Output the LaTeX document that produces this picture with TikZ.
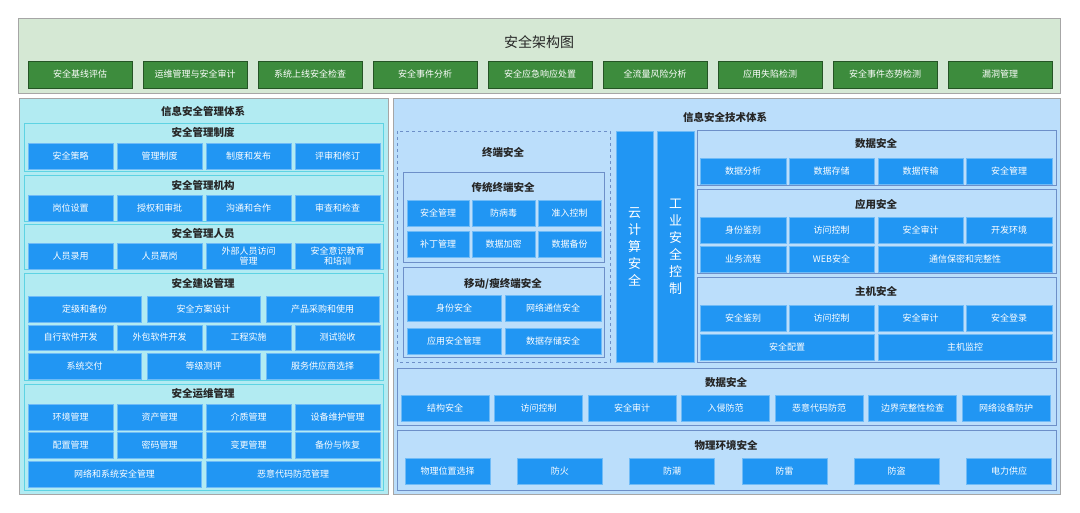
\documentclass[tikz,border=0pt]{standalone}
\usepackage{fontspec}
\setmainfont{Noto Sans CJK SC}
\definecolor{cB}{HTML}{2196F3}
\definecolor{cG}{HTML}{3D8C3D}
\definecolor{cGp}{HTML}{D5E8D4}
\definecolor{cLp}{HTML}{B2EBF2}
\definecolor{cRp}{HTML}{BBDEFB}
\definecolor{cLb}{HTML}{5ED3E3}
\definecolor{cRb}{HTML}{6D8FC8}
\begin{document}
\begin{tikzpicture}[x=1pt,y=-1pt,
  bb/.style={fill=cB,draw=cB!65!white,line width=0.6pt},
  gb/.style={fill=cG,draw=cG!60!black,line width=0.5pt},
  tw/.style={text=white,font=\fontsize{9}{10}\selectfont,align=center,inner sep=0pt},
  tt/.style={font=\fontsize{10.5}{12}\selectfont\bfseries,text=black!85,inner sep=0pt},
  lp/.style={draw=cLb,line width=1pt},
  rp/.style={draw=cRb,line width=1pt}]
\newcommand\mybox[7]{\draw[#7] (#2,#3) rectangle (#4,#5);
  \node[tw] (#1) at ({(#2+#4)/2},{(#3+#5)/2}) {#6};}
\useasboundingbox (0,0) rectangle (1080,513);
\fill[white] (0,0) rectangle (1080,513);
% top
\draw[fill=cGp,draw=gray!70,line width=0.8pt] (18,18) rectangle (1060,93);
\node[font=\fontsize{14}{16}\selectfont,text=black!85] (top) at (539,42) {安全架构图};
\foreach \t [count=\i] in {安全基线评估,运维管理与安全审计,系统上线安全检查,安全事件分析,安全应急响应处置,全流量风险分析,应用失陷检测,安全事件态势检测,漏洞管理}{
  \pgfmathsetmacro\xa{28+(\i-1)*115}\pgfmathsetmacro\xb{\xa+104}
  \mybox{g\i}{\xa}{61}{\xb}{88}{\t}{gb}}
% left panel
\draw[fill=cLp,draw=gray!70,line width=0.8pt] (19,98) rectangle (388,494);
\node[tt] (lt) at (203,111) {信息安全管理体系};
\newcommand\fourrow[6]{% name y1 y2 texts a b c d
  \mybox{#1a}{28}{#2}{113}{#3}{#4}{bb}}
% sub1
\draw[lp] (24,124) rectangle (383,172); \node[tt] (l1) at (203,133) {安全管理制度};
\mybox{l1a}{28}{143}{113}{169}{安全策略}{bb}
\mybox{l1b}{117}{143}{202}{169}{管理制度}{bb}
\mybox{l1c}{206}{143}{291}{169}{制度和发布}{bb}
\mybox{l1d}{295}{143}{380}{169}{评审和修订}{bb}
\draw[lp] (24,176) rectangle (383,222); \node[tt] (l2) at (203,186) {安全管理机构};
\mybox{l2a}{28}{195}{113}{221}{岗位设置}{bb}
\mybox{l2b}{117}{195}{202}{221}{授权和审批}{bb}
\mybox{l2c}{206}{195}{291}{221}{沟通和合作}{bb}
\mybox{l2d}{295}{195}{380}{221}{审查和检查}{bb}
\draw[lp] (24,225) rectangle (383,270); \node[tt] (l3) at (203,234) {安全管理人员};
\mybox{l3a}{28}{243}{113}{269}{人员录用}{bb}
\mybox{l3b}{117}{243}{202}{269}{人员离岗}{bb}
\mybox{l3c}{206}{243}{291}{269}{外部人员访问\\管理}{bb}
\mybox{l3d}{295}{243}{380}{269}{安全意识教育\\和培训}{bb}
\draw[lp] (24,274) rectangle (383,380); \node[tt] (l4) at (203,284) {安全建设管理};
\mybox{l4a}{28}{296}{141}{322}{定级和备份}{bb}
\mybox{l4b}{147}{296}{260}{322}{安全方案设计}{bb}
\mybox{l4c}{266}{296}{379}{322}{产品采购和使用}{bb}
\mybox{l4d}{28}{325}{113}{350}{自行软件开发}{bb}
\mybox{l4e}{117}{325}{202}{350}{外包软件开发}{bb}
\mybox{l4f}{206}{325}{291}{350}{工程实施}{bb}
\mybox{l4g}{295}{325}{380}{350}{测试验收}{bb}
\mybox{l4h}{28}{353}{141}{379}{系统交付}{bb}
\mybox{l4i}{147}{353}{260}{379}{等级测评}{bb}
\mybox{l4j}{266}{353}{379}{379}{服务供应商选择}{bb}
\draw[lp] (24,384) rectangle (383,490); \node[tt] (l5) at (203,394) {安全运维管理};
\mybox{l5a}{28}{404}{113}{430}{环境管理}{bb}
\mybox{l5b}{117}{404}{202}{430}{资产管理}{bb}
\mybox{l5c}{206}{404}{291}{430}{介质管理}{bb}
\mybox{l5d}{295}{404}{380}{430}{设备维护管理}{bb}
\mybox{l5e}{28}{432}{113}{458}{配置管理}{bb}
\mybox{l5f}{117}{432}{202}{458}{密码管理}{bb}
\mybox{l5g}{206}{432}{291}{458}{变更管理}{bb}
\mybox{l5h}{295}{432}{380}{458}{备份与恢复}{bb}
\mybox{l5i}{28}{461}{201}{487}{网络和系统安全管理}{bb}
\mybox{l5j}{206}{461}{380}{487}{恶意代码防范管理}{bb}
% right panel
\draw[fill=cRp,draw=gray!70,line width=0.8pt] (393,98) rectangle (1060,494);
\node[tt] (rt) at (725,117) {信息安全技术体系};
\draw[cRb,dashed,line width=0.7pt] (397,131) rectangle (610,362);
\node[tt] (r0) at (503,153) {终端安全};
\draw[rp] (403,173) rectangle (604,263); \node[tt] (r1) at (503,188) {传统终端安全};
\mybox{r1a}{407}{200}{469}{226}{安全管理}{bb}
\mybox{r1b}{472}{200}{535}{226}{防病毒}{bb}
\mybox{r1c}{538}{200}{601}{226}{准入控制}{bb}
\mybox{r1d}{407}{231}{469}{257}{补丁管理}{bb}
\mybox{r1e}{472}{231}{535}{257}{数据加密}{bb}
\mybox{r1f}{538}{231}{601}{257}{数据备份}{bb}
\draw[rp] (403,268) rectangle (604,358); \node[tt] (r2) at (503,284) {移动/瘦终端安全};
\mybox{r2a}{407}{295}{501}{321}{身份安全}{bb}
\mybox{r2b}{505}{295}{601}{321}{网络通信安全}{bb}
\mybox{r2c}{407}{328}{501}{354}{应用安全管理}{bb}
\mybox{r2d}{505}{328}{601}{354}{数据存储安全}{bb}
\draw[bb] (616,131) rectangle (653,362);
\node[tw,font=\fontsize{13}{17}\selectfont] (vc) at (634.5,247) {云\\计\\算\\安\\全};
\draw[bb] (657,131) rectangle (694,362);
\node[tw,font=\fontsize{13}{17}\selectfont] (vi) at (675.5,247) {工\\业\\安\\全\\控\\制};
\draw[rp] (697,131) rectangle (1056,186); \node[tt] (r3) at (876,144) {数据安全};
\mybox{r3a}{700}{158}{786}{184}{数据分析}{bb}
\mybox{r3b}{789}{158}{874}{184}{数据存储}{bb}
\mybox{r3c}{878}{158}{963}{184}{数据传输}{bb}
\mybox{r3d}{966}{158}{1052}{184}{安全管理}{bb}
\draw[rp] (697,190) rectangle (1056,274); \node[tt] (r4) at (876,204) {应用安全};
\mybox{r4a}{700}{217}{786}{243}{身份鉴别}{bb}
\mybox{r4b}{789}{217}{874}{243}{访问控制}{bb}
\mybox{r4c}{878}{217}{963}{243}{安全审计}{bb}
\mybox{r4d}{966}{217}{1052}{243}{开发环境}{bb}
\mybox{r4e}{700}{246}{786}{272}{业务流程}{bb}
\mybox{r4f}{789}{246}{874}{272}{WEB安全}{bb}
\mybox{r4g}{878}{246}{1052}{272}{通信保密和完整性}{bb}
\draw[rp] (697,278) rectangle (1056,362); \node[tt] (r5) at (876,292) {主机安全};
\mybox{r5a}{700}{305}{786}{331}{安全鉴别}{bb}
\mybox{r5b}{789}{305}{874}{331}{访问控制}{bb}
\mybox{r5c}{878}{305}{963}{331}{安全审计}{bb}
\mybox{r5d}{966}{305}{1052}{331}{安全登录}{bb}
\mybox{r5e}{700}{334}{874}{360}{安全配置}{bb}
\mybox{r5f}{878}{334}{1052}{360}{主机监控}{bb}
\draw[rp] (397,368) rectangle (1056,425); \node[tt] (r6) at (726,383) {数据安全};
\foreach \t [count=\i] in {结构安全,访问控制,安全审计,入侵防范,恶意代码防范,边界完整性检查,网络设备防护}{
  \pgfmathsetmacro\xa{401+(\i-1)*93.5}\pgfmathsetmacro\xb{\xa+88}
  \mybox{n\i}{\xa}{395}{\xb}{421}{\t}{bb}}
\draw[rp] (397,430) rectangle (1056,490); \node[tt] (r7) at (726,446) {物理环境安全};
\foreach \t [count=\i] in {物理位置选择,防火,防潮,防雷,防盗,电力供应}{
  \pgfmathsetmacro\xa{405+(\i-1)*112.3}\pgfmathsetmacro\xb{\xa+85}
  \mybox{p\i}{\xa}{458}{\xb}{484}{\t}{bb}}
\end{tikzpicture}
\end{document}
